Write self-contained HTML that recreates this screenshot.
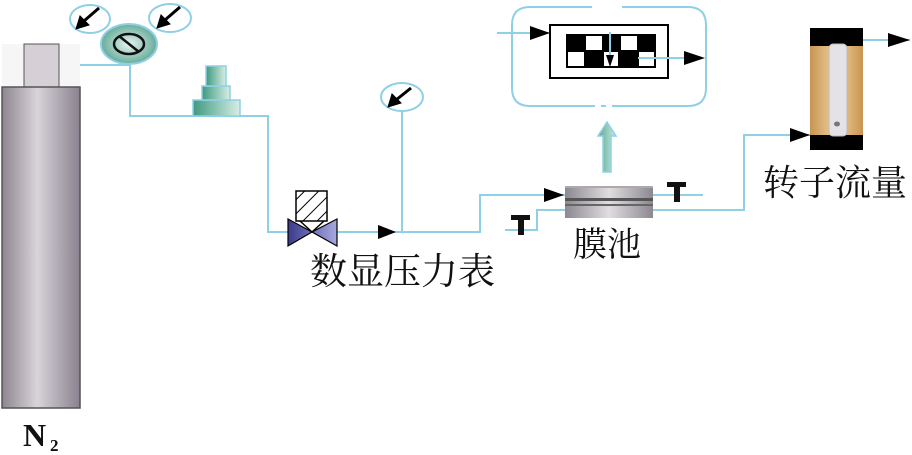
<!DOCTYPE html>
<html><head><meta charset="utf-8"><style>
html,body{margin:0;padding:0;background:#fff;}
svg{display:block;}
text{font-family:"Liberation Serif","Noto Serif CJK SC",serif;fill:#111;}
</style></head><body>
<svg width="912" height="455" viewBox="0 0 912 455" xmlns="http://www.w3.org/2000/svg">
<defs>
<linearGradient id="cyl" x1="0" x2="1"><stop offset="0" stop-color="#8e8590"/><stop offset="0.45" stop-color="#d8d4d8"/><stop offset="1" stop-color="#8a8290"/></linearGradient>
<radialGradient id="reg" cx="0.5" cy="0.5" r="0.6"><stop offset="0" stop-color="#e8f4f0"/><stop offset="1" stop-color="#4c9e88"/></radialGradient>
<linearGradient id="teal" x1="0" x2="1"><stop offset="0" stop-color="#3e9a80"/><stop offset="1" stop-color="#d8eee6"/></linearGradient>
<linearGradient id="vlv" x1="0" x2="1"><stop offset="0" stop-color="#3a3a8a"/><stop offset="1" stop-color="#a8a8e0"/></linearGradient>
<linearGradient id="mem" x1="0" x2="1"><stop offset="0" stop-color="#8c8890"/><stop offset="0.5" stop-color="#e0dce0"/><stop offset="1" stop-color="#8c8890"/></linearGradient>
<linearGradient id="tan" x1="0" x2="1"><stop offset="0" stop-color="#c89550"/><stop offset="0.5" stop-color="#f0d0a0"/><stop offset="1" stop-color="#c89550"/></linearGradient>
<linearGradient id="up" x1="0" x2="1"><stop offset="0" stop-color="#5aa890"/><stop offset="1" stop-color="#c8ece0"/></linearGradient>
<pattern id="hatch" width="10" height="10" patternUnits="userSpaceOnUse" patternTransform="rotate(45)"><line x1="0" y1="0" x2="0" y2="10" stroke="#000" stroke-width="2"/></pattern>
</defs>
<g fill="none" stroke="#8fd0e6" stroke-width="2">
<path d="M59,65 H130 M130,62 V116 H268 V232 H290"/>
<path d="M337,232 H402 V108 M402,232 H480 V195 H565"/>
<path d="M505,230 H537 V210 H565"/>
<path d="M653,195 H703 M653,210 H744 V135 H810"/>
<path d="M863,40 H910"/>
<path d="M592,7 H530 Q512,7 512,25 V88 Q512,106 530,106 H595 M601,106 H606 M612,106 H622 M622,106 H688 Q706,106 706,88 V25 Q706,7 688,7 H622"/>
<path d="M497,33 H549"/>
</g>
<g fill="#000">
<path d="M378,225 L396,232 L378,239 Z"/>
<path d="M544,188 L564,195 L544,202 Z"/>
<path d="M790,128 L810,135 L790,142 Z"/>
<path d="M888,33 L910,40 L888,47 Z"/>
<path d="M530,26 L550,33 L530,40 Z"/>
</g>
<rect x="2" y="44" width="78" height="43" fill="#f6f6f6"/>
<rect x="24" y="44" width="35" height="43" fill="#d6d0d6" stroke="#555" stroke-width="1"/>
<rect x="2" y="87" width="78" height="321" fill="url(#cyl)" stroke="#555" stroke-width="1.5"/>
<g fill="#fff" stroke="#8fd0e6" stroke-width="2">
<ellipse cx="90" cy="19" rx="20" ry="14"/>
<ellipse cx="170" cy="18" rx="21" ry="14"/>
<ellipse cx="402" cy="97" rx="21" ry="14"/>
</g>
<g stroke="#000" stroke-width="3" fill="#000">
<line x1="99" y1="8" x2="84" y2="21"/><path d="M76,29 L80,16 L89,25 Z" stroke-width="1"/>
<line x1="180" y1="7" x2="165" y2="20"/><path d="M157,28 L161,15 L170,24 Z" stroke-width="1"/>
<line x1="411" y1="88" x2="396" y2="100"/><path d="M388,107 L392,94 L401,103 Z" stroke-width="1"/>
</g>
<ellipse cx="129" cy="44" rx="28" ry="20" fill="url(#reg)" stroke="#8fd0e6" stroke-width="2"/>
<ellipse cx="129" cy="44" rx="15" ry="10" fill="none" stroke="#111" stroke-width="2.5"/>
<line x1="119" y1="36" x2="139" y2="52" stroke="#111" stroke-width="2.5"/>
<rect x="193" y="100" width="47" height="16" fill="url(#teal)" stroke="#8fd0e6" stroke-width="1.5"/>
<rect x="202" y="86" width="28" height="14" fill="url(#teal)" stroke="#8fd0e6" stroke-width="1.5"/>
<rect x="206" y="66" width="20" height="20" fill="url(#teal)" stroke="#8fd0e6" stroke-width="1.5"/>
<rect x="296" y="191" width="31" height="30" fill="url(#hatch)" stroke="#000" stroke-width="1.5"/>
<path d="M300,221 L312,232 L324,221" fill="none" stroke="#000" stroke-width="1.5"/>
<path d="M288,219 L312,232 L288,246 Z M337,219 L312,232 L337,246 Z" fill="url(#vlv)" stroke="#000" stroke-width="1.2"/>
<rect x="565" y="186" width="88" height="32" fill="url(#mem)"/>
<rect x="565" y="198" width="88" height="3" fill="#555"/>
<rect x="565" y="204" width="88" height="2" fill="#666"/>
<rect x="565" y="186" width="88" height="2" fill="#aaa"/>
<g fill="#111"><rect x="511" y="215" width="19" height="5"/><rect x="518" y="215" width="6" height="20"/>
<rect x="667" y="182" width="19" height="5"/><rect x="674" y="182" width="6" height="20"/></g>
<path d="M603,172 V136 H598 L607,122 L616,136 H611 V172 Z" fill="url(#up)" stroke="#8fd0e6" stroke-width="1.5"/>
<rect x="550" y="25" width="118" height="53" fill="#fff" stroke="#000" stroke-width="2"/>
<rect x="566" y="34" width="90" height="34" fill="#000"/>
<g fill="#fff"><rect x="586" y="36" width="16" height="14"/><rect x="621" y="36" width="16" height="14"/>
<rect x="568" y="52" width="16" height="14"/><rect x="604" y="52" width="14" height="14"/><rect x="639" y="52" width="15" height="14"/></g>
<line x1="610" y1="32" x2="610" y2="60" stroke="#8fd0e6" stroke-width="2"/>
<path d="M606,55 L610,67 L614,55 Z" fill="#000"/>
<line x1="638" y1="58" x2="686" y2="58" stroke="#8fd0e6" stroke-width="2"/>
<path d="M684,51 L705,58 L684,65 Z" fill="#000"/>
<rect x="810" y="28" width="53" height="122" fill="url(#tan)"/>
<rect x="810" y="28" width="53" height="18" fill="#000"/>
<rect x="810" y="135" width="53" height="15" fill="#000"/>
<rect x="829" y="44" width="18" height="92" rx="4" fill="#e4e2e6" stroke="#bbb"/>
<ellipse cx="837" cy="124" rx="3" ry="2.5" fill="#777"/>
<text x="763" y="195" font-size="36">转子流量</text>
<text x="573" y="256" font-size="34">膜池</text>
<text x="310" y="284" font-size="37">数显压力表</text>
<text x="23" y="446" font-size="32" font-weight="bold">N</text>
<text x="50" y="451" font-size="17" font-weight="bold">2</text>
</svg>
</body></html>
